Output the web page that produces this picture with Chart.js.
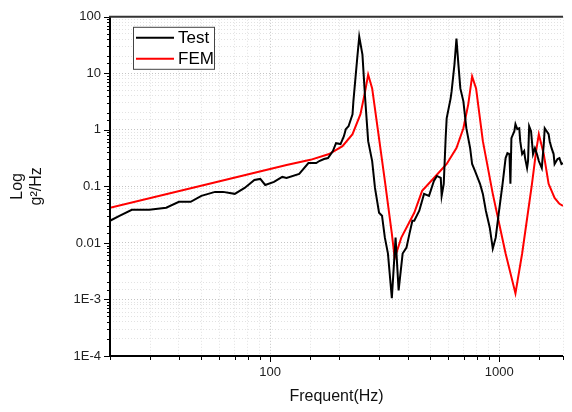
<!DOCTYPE html>
<html>
<head>
<meta charset="utf-8">
<script src="https://cdn.jsdelivr.net/npm/chart.js@4/dist/chart.umd.min.js"></script>
<style>
  html, body { margin: 0; padding: 0; background: #fff; overflow: hidden; }
</style>
</head>
<body>
<canvas id="psdChart" width="572" height="412"></canvas>
<script>
// measured PSD (Test)
const testFreq = [20, 22.1, 24.9, 29.7, 35.2, 40, 45, 50.1, 57.5, 62.3, 70.1, 77.4, 85.4, 90.6, 95.2,
  104, 113, 118, 134, 147, 159, 164, 172, 179, 188, 194, 203, 210, 214, 220, 229, 231, 240, 245,
  253, 260, 268, 279, 287, 299, 308, 317, 327, 340, 353, 364, 379, 394, 406, 418, 426, 448, 470,
  494, 519, 535, 556, 561, 573, 584, 590, 614, 620, 638, 651, 664, 677, 698, 719, 747, 762, 785,
  825, 849, 875, 910, 938, 966, 995, 1035, 1067, 1087, 1109, 1120, 1131, 1165, 1178, 1200, 1224,
  1236, 1260, 1286, 1298, 1324, 1337, 1352, 1378, 1406, 1433, 1462, 1490, 1535, 1566, 1581, 1613,
  1644, 1662, 1694, 1729, 1746, 1798, 1833, 1871, 1900];
const testVal = [0.0247, 0.0303, 0.0386, 0.0386, 0.0419, 0.0533, 0.0533, 0.0681, 0.080, 0.080,
  0.0738, 0.094, 0.130, 0.1355, 0.106, 0.120, 0.147, 0.141, 0.166, 0.259, 0.259, 0.281, 0.305,
  0.317, 0.422, 0.582, 0.560, 0.773, 1.03, 1.16, 1.89, 3.19, 18.2, 44.5, 21.4, 3.61, 0.631, 0.281,
  0.094, 0.0342, 0.0303, 0.0124, 0.00649, 0.00105, 0.0124, 0.00145, 0.00649, 0.00828, 0.0146,
  0.0247, 0.0247, 0.0371, 0.0738, 0.0681, 0.125, 0.153, 0.141, 0.0681, 0.111, 0.713, 1.60, 3.61,
  4.79, 14.3, 41.0, 14.3, 5.41, 3.19, 1.07, 0.475, 0.249, 0.187, 0.111, 0.0738, 0.0371, 0.0186,
  0.00794, 0.0124, 0.0328, 0.111, 0.317, 0.388, 0.373, 0.111, 0.713, 0.947, 1.26, 1.03, 1.07,
  0.631, 0.373, 0.422, 0.317, 0.211, 0.281, 1.16, 0.947, 0.373, 0.475, 0.373, 0.281, 0.211, 0.560,
  1.07, 0.947, 0.839, 0.631, 0.475, 0.373, 0.249, 0.305, 0.317, 0.249, 0.259];

// finite element prediction (FEM)
const femFreq = [20, 50, 118, 150, 181, 207, 229, 248, 260, 268, 279, 296, 317, 340, 350, 374, 426,
  461, 519, 590, 651, 698, 733, 762, 793, 849, 938, 1067, 1178, 1260, 1391, 1450, 1490, 1566, 1644,
  1746, 1833, 1900];
const femVal = [0.0419, 0.103, 0.239, 0.295, 0.373, 0.515, 0.839, 1.89, 4.79, 9.5, 5.41, 0.947,
  0.125, 0.0146, 0.0054, 0.0124, 0.0342, 0.0834, 0.141, 0.249, 0.475, 1.07, 2.83, 8.8, 5.41, 0.631,
  0.0738, 0.0065, 0.00128, 0.0065, 0.111, 0.42, 0.84, 0.373, 0.111, 0.0627, 0.0492, 0.0454];

const xTickValues = [100, 1000];
const xTickLabels = ['100', '1000'];
const yTickValues = [1e-4, 1e-3, 0.01, 0.1, 1, 10, 100];
const yTickLabels = ['1E-4', '1E-3', '0.01', '0.1', '1', '10', '100'];

const FONT = '"Liberation Sans", Arial, sans-serif';

const isMajor = v => Math.abs(Math.log10(v) - Math.round(Math.log10(v))) < 1e-6;
const labelFor = (vals, labels) => v => {
    const i = vals.findIndex(t => Math.abs(t - v) / t < 1e-6);
    return i >= 0 ? labels[i] : '';
};

// frame lines, outward tick marks and boxed legend
const framePlugin = {
    id: 'frame',
    afterDraw(chart) {
        const { ctx, chartArea: a, scales } = chart;
        ctx.save();
        ctx.strokeStyle = '#000';
        ctx.lineWidth = 1;
        scales.y.ticks.forEach(t => {
            const p = Math.round(scales.y.getPixelForValue(t.value)) + 0.5;
            ctx.beginPath();
            ctx.moveTo(a.left, p);
            ctx.lineTo(a.left - (isMajor(t.value) ? 6 : 3), p);
            ctx.stroke();
        });
        scales.x.ticks.forEach(t => {
            const p = Math.round(scales.x.getPixelForValue(t.value)) + 0.5;
            ctx.beginPath();
            ctx.moveTo(p, a.bottom);
            ctx.lineTo(p, a.bottom + (isMajor(t.value) ? 6 : 4));
            ctx.stroke();
        });
        ctx.lineWidth = 2;
        ctx.strokeStyle = '#000';
        ctx.beginPath();
        ctx.moveTo(a.left, a.bottom);
        ctx.lineTo(a.right, a.bottom);
        ctx.moveTo(a.left, a.bottom);
        ctx.lineTo(a.left, a.top);
        ctx.stroke();
        ctx.strokeStyle = '#333';
        ctx.beginPath();
        ctx.moveTo(a.left - 1, a.top);
        ctx.lineTo(a.right, a.top);
        ctx.stroke();

        // legend
        const bx = a.left + 23, by = a.top + 10, bw = 81, bh = 42;
        ctx.fillStyle = '#fff';
        ctx.fillRect(bx, by, bw, bh);
        ctx.lineWidth = 1;
        ctx.strokeStyle = '#444';
        ctx.strokeRect(bx + 0.5, by + 0.5, bw, bh);
        ctx.font = '17px ' + FONT;
        ctx.textBaseline = 'middle';
        chart.data.datasets.forEach((ds, i) => {
            const ly = by + 11 + i * 21;
            ctx.strokeStyle = ds.borderColor;
            ctx.lineWidth = 2;
            ctx.beginPath();
            ctx.moveTo(bx + 3, ly);
            ctx.lineTo(bx + 41, ly);
            ctx.stroke();
            ctx.fillStyle = '#000';
            ctx.fillText(ds.label, bx + 45, ly + 1);
        });
        ctx.restore();
    }
};

const gridColor = ctx => (ctx.tick && isMajor(ctx.tick.value)) ? '#c4c4c4' : '#e2e2e2';

new Chart(document.getElementById('psdChart'), {
    type: 'line',
    data: {
        datasets: [
            {
                label: 'Test',
                data: testFreq.map((f, i) => ({ x: f, y: testVal[i] })),
                borderColor: '#000000',
                borderWidth: 2,
                pointRadius: 0,
                tension: 0,
            },
            {
                label: 'FEM',
                data: femFreq.map((f, i) => ({ x: f, y: femVal[i] })),
                borderColor: '#ff0000',
                borderWidth: 2,
                pointRadius: 0,
                tension: 0,
            },
        ],
    },
    options: {
        responsive: false,
        animation: false,
        devicePixelRatio: 1,
        layout: { padding: { top: 15, right: 0, left: 0, bottom: 0 } },
        plugins: {
            legend: { display: false },
            tooltip: { enabled: false },
        },
        scales: {
            x: {
                type: 'logarithmic',
                min: 20,
                max: 1900,
                afterFit: s => { s.height = 56; },
                border: { display: false, dash: [1, 2] },
                grid: { color: gridColor, lineWidth: 1, drawTicks: false },
                ticks: {
                    autoSkip: false,
                    maxRotation: 0,
                    padding: 9,
                    color: '#222',
                    font: { family: FONT, size: 13 },
                    callback: labelFor(xTickValues, xTickLabels),
                },
                title: {
                    display: true,
                    text: 'Frequent(Hz)',
                    color: '#111',
                    font: { family: FONT, size: 16 },
                    padding: { top: 4, bottom: 6 },
                },
            },
            y: {
                type: 'logarithmic',
                min: 1e-4,
                max: 100,
                afterFit: s => { s.width = 110; },
                border: { display: false, dash: [1, 2] },
                grid: { color: gridColor, lineWidth: 1, drawTicks: false },
                ticks: {
                    autoSkip: false,
                    padding: 9,
                    color: '#222',
                    font: { family: FONT, size: 13 },
                    callback: labelFor(yTickValues, yTickLabels),
                },
                title: {
                    display: true,
                    text: ['Log', 'g\u00b2/Hz'],
                    color: '#111',
                    font: { family: FONT, size: 16 },
                    padding: { top: 8, bottom: 0 },
                },
            },
        },
    },
    plugins: [framePlugin],
});
</script>
</body>
</html>
